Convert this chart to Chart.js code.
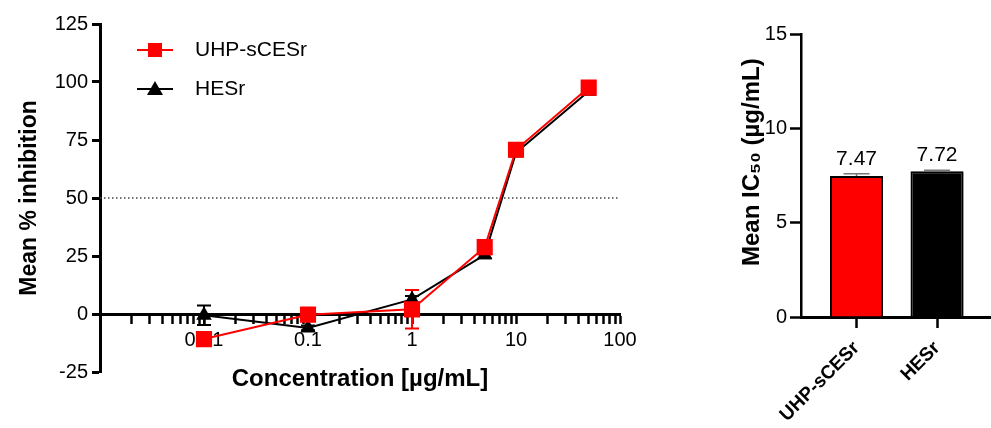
<!DOCTYPE html>
<html>
<head>
<meta charset="utf-8">
<script src="https://cdn.jsdelivr.net/npm/chart.js@4.4.1/dist/chart.umd.min.js"></script>
<style>
html, body { margin: 0; padding: 0; background: #fff; }
#wrap { position: relative; width: 991px; height: 428px; overflow: hidden; }
#curveBox { position: absolute; left: 0; top: 0; width: 660px; height: 428px; }
#barBox { position: absolute; left: 720px; top: 0; width: 271px; height: 428px; }
</style>
</head>
<body>
<div id="wrap">
  <div id="curveBox"><canvas id="curve" width="660" height="428"></canvas></div>
  <div id="barBox"><canvas id="bars" width="271" height="428"></canvas></div>
</div>
<script>
'use strict';

// dose-response (left panel)
const concentrations = [0.01, 0.1, 1, 5, 10, 50];
const uhpMean = [-10.8, -0.3, 2.0, 28.8, 70.8, 97.6];
const uhpErr = [1.0, 1.0, 8.3, 3.0, 1.5, 1.0];
const hesMean = [-0.5, -6.0, 6.3, 25.5, 69.5, 96.0];
const hesErr = [4.2, 1.0, 1.5, 1.5, 1.5, 1.0];
const seriesNames = ['UHP-sCESr', 'HESr'];
const xTickValues = [0.01, 0.1, 1, 10, 100];
const xTickLabels = ['0.01', '0.1', '1', '10', '100'];
const xRange = [0.001, 100];
const halfInhibition = 50;

// IC50 (right panel)
const ic50Groups = ['UHP-sCESr', 'HESr'];
const ic50Mean = [7.47, 7.72];
const ic50Err = [0.12, 0.06];

const FONT = "'Liberation Sans', Arial, sans-serif";
const RED = '#ff0000';
const BLACK = '#000000';

const toPoints = (xs, ys) => xs.map((x, i) => ({x: x, y: ys[i]}));

const lineErrorBars = {
    id: 'lineErrorBars',
    beforeDatasetsDraw(chart) {
        const ctx = chart.ctx;
        const yScale = chart.scales.y;
        chart.data.datasets.forEach((ds, i) => {
            if (!ds.errors) return;
            const meta = chart.getDatasetMeta(i);
            ctx.save();
            ctx.strokeStyle = ds.borderColor;
            ctx.lineWidth = 2;
            meta.data.forEach((pt, j) => {
                const v = ds.data[j].y;
                const e = ds.errors[j];
                const top = yScale.getPixelForValue(v + e);
                const bot = yScale.getPixelForValue(v - e);
                ctx.beginPath();
                ctx.moveTo(pt.x, top);
                ctx.lineTo(pt.x, bot);
                ctx.moveTo(pt.x - 7, top);
                ctx.lineTo(pt.x + 7, top);
                ctx.moveTo(pt.x - 7, bot);
                ctx.lineTo(pt.x + 7, bot);
                ctx.stroke();
            });
            ctx.restore();
        });
    },
};

const insideLegend = {
    id: 'insideLegend',
    afterDraw(chart) {
        const ctx = chart.ctx;
        const area = chart.chartArea;
        chart.data.datasets.filter(ds => ds.label).forEach((ds, i) => {
            const y = area.top + 26 + i * 39;
            const x0 = area.left + 37;
            const x1 = area.left + 73;
            const cx = (x0 + x1) / 2;
            ctx.save();
            ctx.strokeStyle = ds.borderColor;
            ctx.lineWidth = 2;
            ctx.beginPath();
            ctx.moveTo(x0, y);
            ctx.lineTo(x1, y);
            ctx.stroke();
            ctx.fillStyle = ds.borderColor;
            if (ds.pointStyle === 'rect') {
                ctx.fillRect(cx - 7, y - 7, 14, 14);
            } else {
                ctx.beginPath();
                ctx.moveTo(cx, y - 8);
                ctx.lineTo(cx + 8, y + 6);
                ctx.lineTo(cx - 8, y + 6);
                ctx.closePath();
                ctx.fill();
            }
            ctx.fillStyle = BLACK;
            ctx.font = `21px ${FONT}`;
            ctx.textAlign = 'left';
            ctx.textBaseline = 'middle';
            ctx.fillText(ds.label, area.left + 95, y);
            ctx.restore();
        });
    },
};

new Chart(document.getElementById('curve'), {
    type: 'line',
    data: {
        datasets: [
            {
                label: seriesNames[0],
                data: toPoints(concentrations, uhpMean),
                errors: uhpErr,
                borderColor: RED,
                backgroundColor: RED,
                pointBackgroundColor: RED,
                pointBorderColor: RED,
                pointStyle: 'rect',
                pointRadius: 10,
                borderWidth: 2,
            },
            {
                label: seriesNames[1],
                data: toPoints(concentrations, hesMean),
                errors: hesErr,
                borderColor: BLACK,
                backgroundColor: BLACK,
                pointBackgroundColor: BLACK,
                pointBorderColor: BLACK,
                pointStyle: 'triangle',
                pointRadius: 7,
                borderWidth: 2,
            },
            {
                data: toPoints(xRange, xRange.map(() => halfInhibition)),
                borderColor: '#444',
                borderWidth: 1.5,
                borderDash: [1.5, 2.5],
                pointRadius: 0,
            },
        ],
    },
    options: {
        responsive: false,
        animation: false,
        layout: {padding: {left: 0, top: 24, right: 40, bottom: 56}},
        plugins: {legend: {display: false}, tooltip: {enabled: false}},
        scales: {
            x: {
                type: 'logarithmic',
                position: {y: 0},
                min: xRange[0],
                max: xRange[1],
                afterBuildTicks(scale) {
                    const ticks = [];
                    for (let e = -3; e <= 1; e += 1) {
                        for (let d = 1; d <= 9; d += 1) {
                            ticks.push({value: Number((d * Math.pow(10, e)).toPrecision(3))});
                        }
                    }
                    ticks.push({value: xRange[1]});
                    scale.ticks = ticks;
                },
                ticks: {
                    autoSkip: false,
                    maxRotation: 0,
                    padding: 6,
                    color: BLACK,
                    font: {family: FONT, size: 20},
                    callback(v) {
                        const k = xTickValues.findIndex(t => Math.abs(t - v) < t * 1e-6);
                        return k >= 0 ? xTickLabels[k] : '';
                    },
                },
                grid: {drawOnChartArea: false, tickLength: 8, tickWidth: 2.5, tickColor: BLACK},
                border: {width: 3, color: BLACK},
                title: {
                    display: true,
                    text: 'Concentration [µg/mL]',
                    color: BLACK,
                    font: {family: FONT, size: 24, weight: 'bold'},
                    padding: {top: 7, bottom: 0},
                },
            },
            y: {
                min: -25,
                max: 125,
                ticks: {stepSize: 25, padding: 4, color: BLACK, font: {family: FONT, size: 20}},
                grid: {drawOnChartArea: false, tickLength: 8, tickWidth: 3, tickColor: BLACK},
                border: {width: 3, color: BLACK},
                title: {
                    display: true,
                    text: 'Mean % inhibition',
                    color: BLACK,
                    font: {family: FONT, size: 23, weight: 'bold'},
                    padding: {top: 16, bottom: 0},
                },
                afterFit(scale) { scale.width = 100; },
            },
        },
    },
    plugins: [lineErrorBars, insideLegend],
});

const barExtras = {
    id: 'barExtras',
    afterDatasetsDraw(chart) {
        const ctx = chart.ctx;
        const yScale = chart.scales.y;
        const ds = chart.data.datasets[0];
        const meta = chart.getDatasetMeta(0);
        meta.data.forEach((bar, j) => {
            const v = ds.data[j].y;
            const top = yScale.getPixelForValue(v + ds.errors[j]);
            ctx.save();
            ctx.strokeStyle = '#777';
            ctx.lineWidth = 1.5;
            ctx.beginPath();
            ctx.moveTo(bar.x, bar.y);
            ctx.lineTo(bar.x, top);
            ctx.moveTo(bar.x - 13, top);
            ctx.lineTo(bar.x + 13, top);
            ctx.stroke();
            ctx.fillStyle = BLACK;
            ctx.font = `21px ${FONT}`;
            ctx.textAlign = 'center';
            ctx.textBaseline = 'alphabetic';
            ctx.fillText(v.toFixed(2), bar.x, top - 9);
            ctx.restore();
        });
    },
};

new Chart(document.getElementById('bars'), {
    type: 'bar',
    data: {
        datasets: [{
            data: ic50Groups.map((g, i) => ({x: i, y: ic50Mean[i]})),
            errors: ic50Err,
            backgroundColor: [RED, BLACK],
            borderColor: BLACK,
            borderWidth: 2,
            categoryPercentage: 1,
            barPercentage: 0.66,
        }],
    },
    options: {
        responsive: false,
        animation: false,
        layout: {padding: {left: 0, top: 34, right: 0, bottom: 0}},
        plugins: {legend: {display: false}, tooltip: {enabled: false}},
        scales: {
            x: {
                type: 'linear',
                offset: false,
                min: -0.69,
                max: 1.67,
                afterBuildTicks(scale) {
                    scale.ticks = ic50Groups.map((g, i) => ({value: i}));
                },
                ticks: {
                    autoSkip: false,
                    minRotation: 45,
                    maxRotation: 45,
                    padding: 9,
                    color: BLACK,
                    font: {family: FONT, size: 19, weight: 'bold'},
                    callback: v => ic50Groups[v],
                },
                grid: {offset: false, drawOnChartArea: false, tickLength: 11, tickWidth: 2.5, tickColor: BLACK},
                border: {width: 3, color: BLACK},
                afterFit(scale) { scale.height = 111; },
            },
            y: {
                min: 0,
                max: 15,
                ticks: {stepSize: 5, padding: 3, color: BLACK, font: {family: FONT, size: 20}},
                grid: {drawOnChartArea: false, tickLength: 11, tickWidth: 2.5, tickColor: BLACK},
                border: {width: 2.5, color: BLACK},
                title: {
                    display: true,
                    // leading spaces nudge the centred title up a little, as in the source
                    text: '    Mean IC₅₀ (µg/mL)',
                    color: BLACK,
                    font: {family: FONT, size: 24, weight: 'bold'},
                    padding: {top: 18, bottom: 0},
                },
                afterFit(scale) { scale.width = 81; },
            },
        },
    },
    plugins: [barExtras],
});
</script>
</body>
</html>
